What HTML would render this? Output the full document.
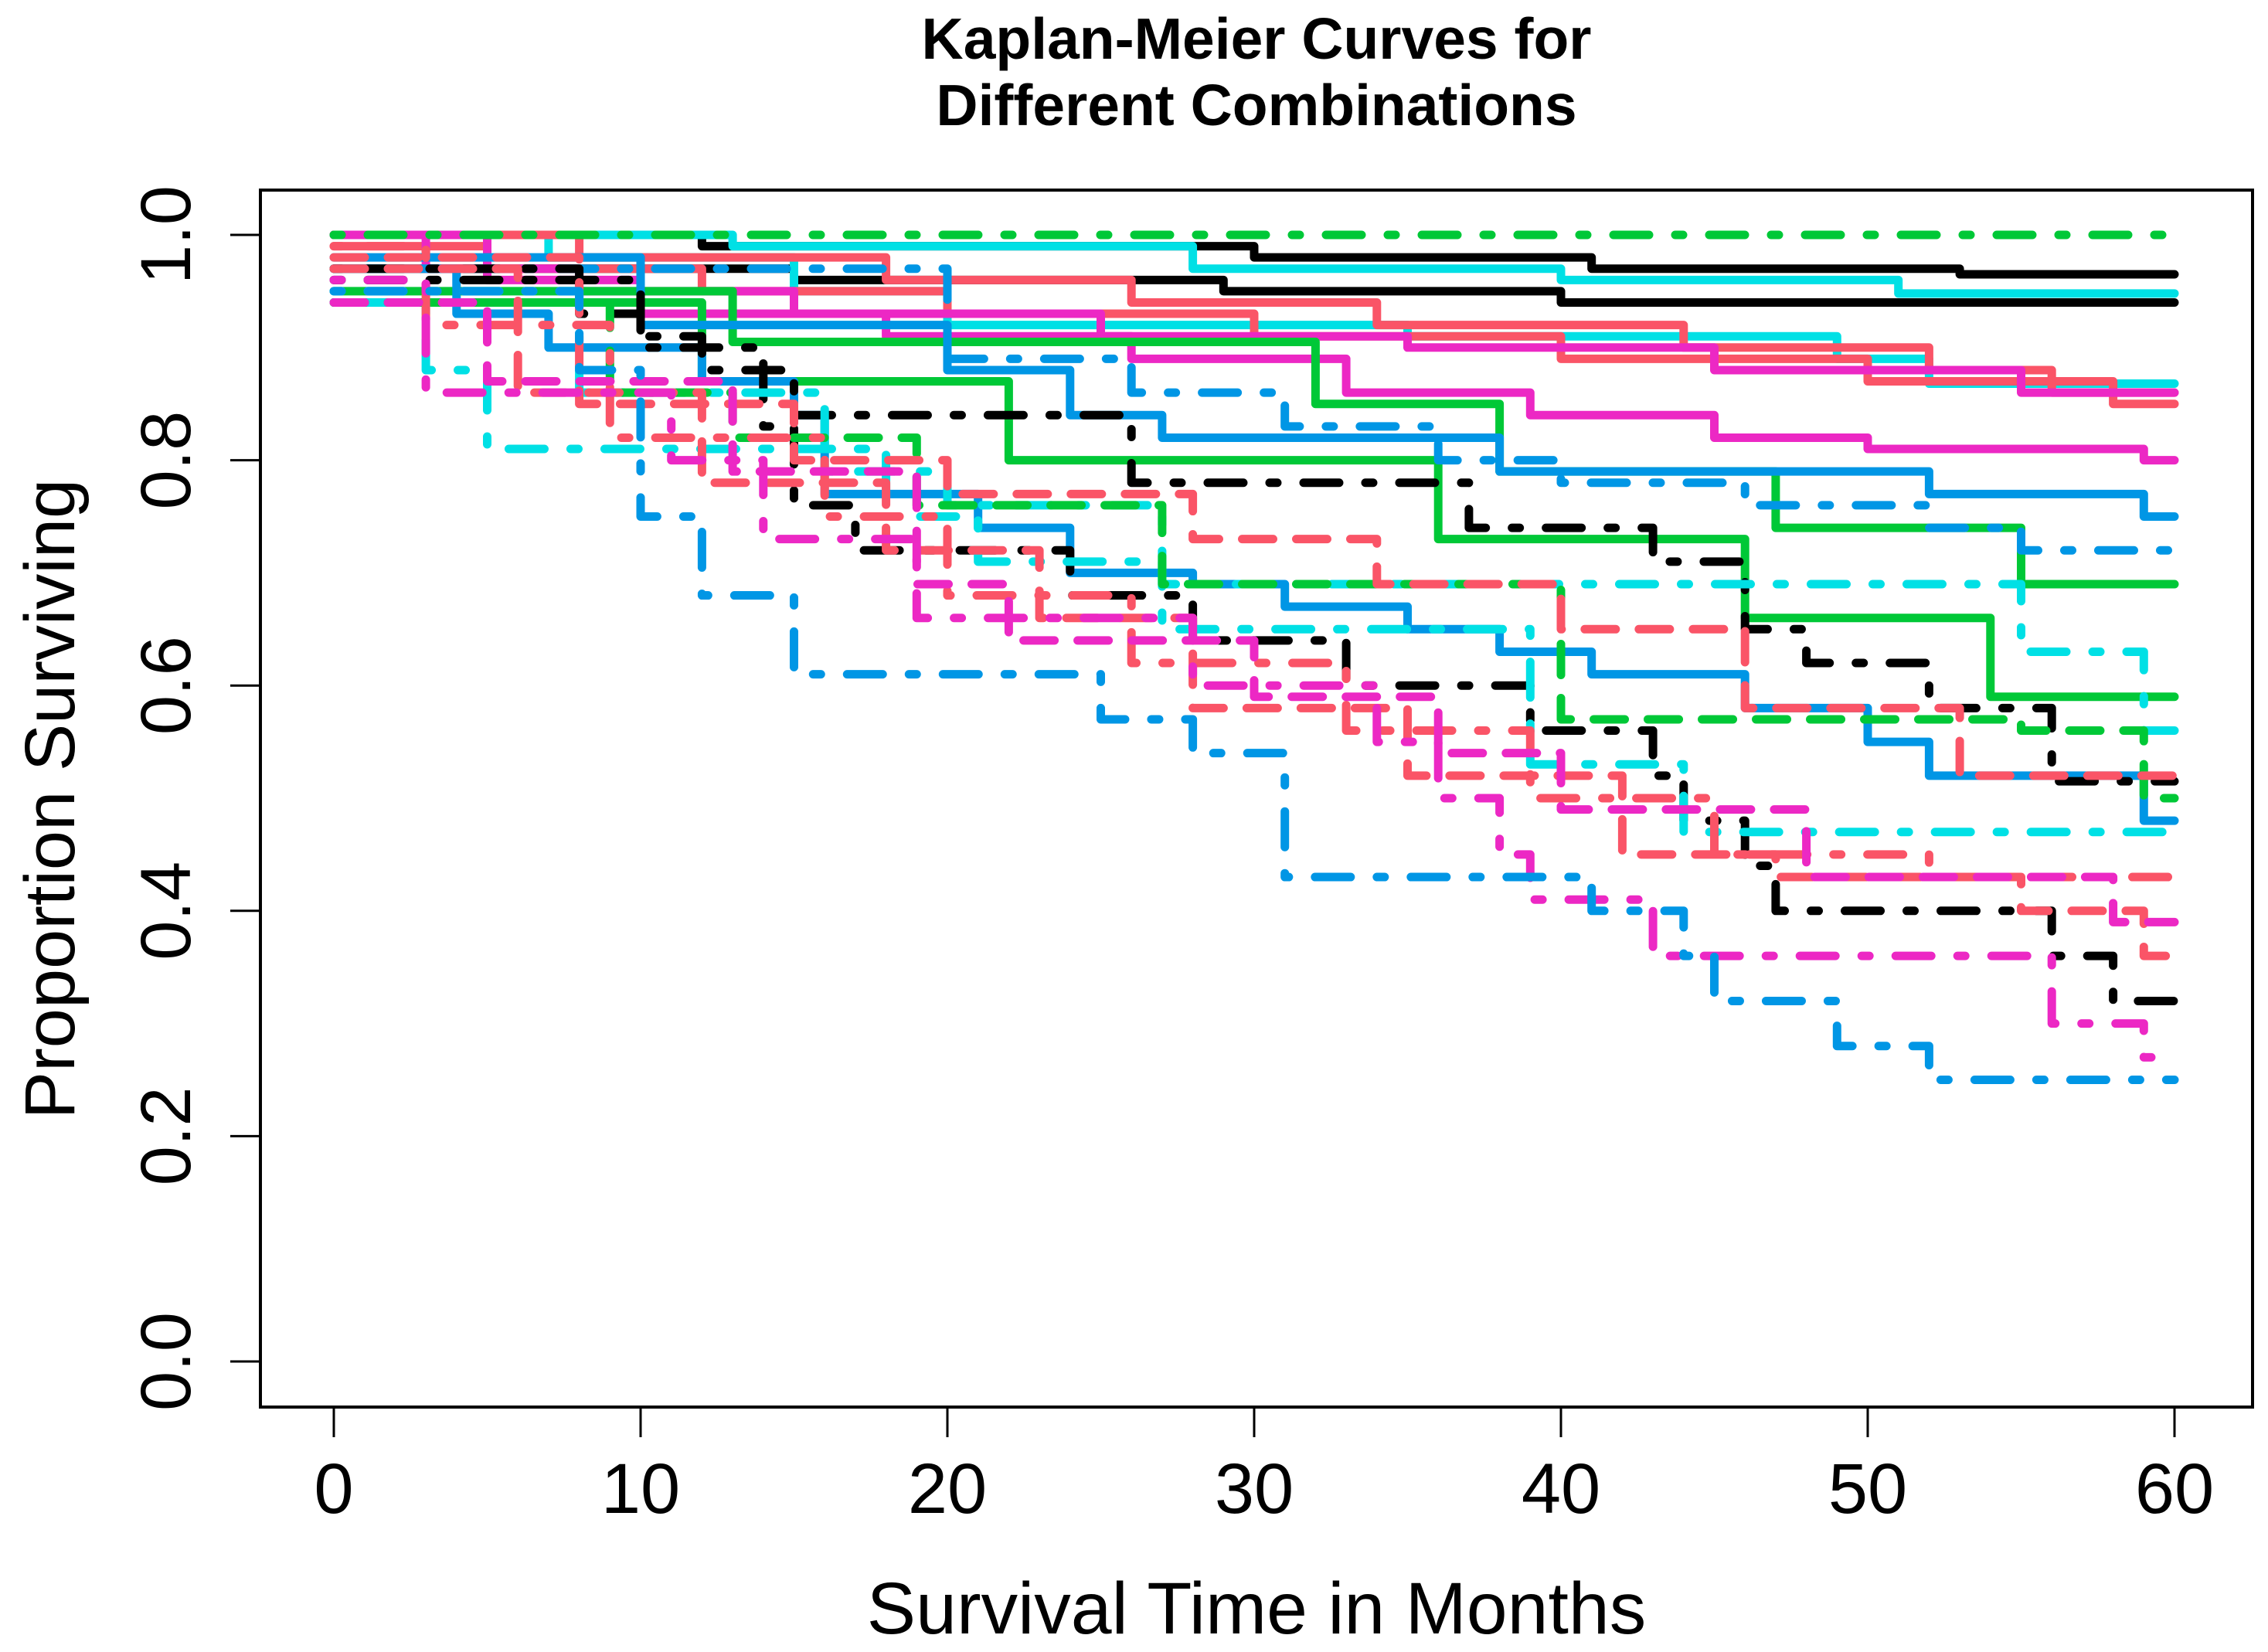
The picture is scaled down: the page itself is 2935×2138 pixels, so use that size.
<!DOCTYPE html>
<html><head><meta charset="utf-8"><style>
html,body{margin:0;padding:0;background:#fff;}
svg{display:block;}
text{font-family:"Liberation Sans",sans-serif;fill:#000;}
</style></head>
<body>
<svg id="chart" width="2935" height="2138" viewBox="0 0 2935 2138" xmlns="http://www.w3.org/2000/svg">
<text x="1626" y="76" font-size="75" font-weight="bold" text-anchor="middle">Kaplan-Meier Curves for</text>
<text x="1626" y="162" font-size="75" font-weight="bold" text-anchor="middle">Different Combinations</text>
<rect x="337" y="246" width="2578" height="1575" fill="none" stroke="#000" stroke-width="4"/>
<g id="xaxis"></g>
<g id="yaxis"></g>
<g id="curves"></g>
<text x="1626" y="2114" font-size="95" text-anchor="middle">Survival Time in Months</text>
<text transform="translate(96,1034) rotate(-90)" font-size="92" text-anchor="middle">Proportion Surviving</text>
</svg>
<script>
const xTicks = [0,10,20,30,40,50,60];
const yTicks = [0.0,0.2,0.4,0.6,0.8,1.0];
const yTickLabels = ["0.0","0.2","0.4","0.6","0.8","1.0"];
const c1t=[0,12,30,41,53], c1v=[1.0,0.99,0.98,0.97,0.965];
const c2t=[0,15,29,40], c2v=[0.97,0.96,0.95,0.94];
const c3t=[0,13,28,40,51], c3v=[1.0,0.99,0.97,0.96,0.948];
const c4t=[0,7,15,20,35,49,52], c4v=[1.0,0.98,0.95,0.92,0.91,0.89,0.868];
const c5t=[0,5,12,20,30,40,50,58], c5v=[0.99,0.97,0.95,0.93,0.91,0.89,0.87,0.85];
const c6t=[0,8,18,26,34,44,52,56], c6v=[1.0,0.98,0.96,0.94,0.92,0.90,0.88,0.86];
const c7t=[0,3,8,15,25,35,45,55], c7v=[1.0,0.97,0.95,0.93,0.91,0.90,0.88,0.86];
const c8t=[0,5,10,18,26,33,39,45,50,59], c8v=[1.0,0.96,0.93,0.91,0.89,0.86,0.84,0.82,0.81,0.80];
const c9t=[0,13,32,38,47,55], c9v=[0.95,0.905,0.85,0.79,0.74,0.69];
const c10t=[0,12,22,36,46,54], c10v=[0.94,0.87,0.80,0.73,0.66,0.59];
const c11t=[0,4,7,12,15,16,21,24,28,31,35,38,41,46,50,52,59], c11v=[0.97,0.93,0.90,0.87,0.84,0.77,0.74,0.70,0.69,0.67,0.65,0.63,0.61,0.58,0.55,0.52,0.48];
const c12t=[0,10,20,24,27,38,52,59], c12v=[0.98,0.92,0.88,0.84,0.82,0.79,0.77,0.75];
const c13t=[0], c13v=[1.0];
const c14t=[0,20,26,31,36,40,46,52,55], c14v=[0.97,0.89,0.86,0.83,0.80,0.78,0.76,0.74,0.72];
const c15t=[0,8,10,12,15,26,37,43,46,48,52,56], c15v=[0.97,0.93,0.91,0.88,0.84,0.78,0.74,0.71,0.65,0.62,0.58,0.515];
const c16t=[0,10,14,15,17,24,28,33,39,43,44,46,47,56,58], c16v=[0.96,0.90,0.83,0.76,0.72,0.68,0.64,0.60,0.56,0.52,0.48,0.44,0.40,0.36,0.32];
const c17t=[0,3,5,18,21,27,55,59], c17v=[0.94,0.88,0.81,0.75,0.71,0.69,0.63,0.56];
const c18t=[0,8,16,20,27,39,44], c18v=[0.95,0.86,0.79,0.76,0.65,0.53,0.47];
const c19t=[0,9,13,19,27,40,55,59], c19v=[0.94,0.86,0.82,0.76,0.69,0.57,0.56,0.50];
const c20t=[0,8,15,20,28,34,40,46,53], c20v=[0.98,0.85,0.80,0.77,0.73,0.69,0.65,0.58,0.52];
const c21t=[0,6,12,18,23,28,35,42,47,55,59], c21v=[0.97,0.86,0.78,0.72,0.66,0.58,0.52,0.45,0.43,0.40,0.36];
const c22t=[0,3,9,16,20,26,33,39,45,52], c22v=[0.99,0.92,0.82,0.75,0.68,0.62,0.56,0.50,0.45,0.43];
const c23t=[0,3,11,14,19,28,34,36,38,39,43,56,59], c23v=[0.96,0.86,0.80,0.73,0.66,0.60,0.55,0.50,0.45,0.41,0.36,0.30,0.27];
const c24t=[0,5,13,19,22,30,36,40,48,58], c24v=[0.94,0.87,0.79,0.69,0.64,0.59,0.54,0.49,0.43,0.39];
const c25t=[0,8,10,12,15,25,28,31,41,44,45,49,52], c25v=[0.95,0.88,0.75,0.68,0.61,0.57,0.54,0.43,0.40,0.36,0.32,0.28,0.25];

const BLACK="#000", RED="#FA5467", GREEN="#00C837", BLUE="#0096E5", CYAN="#00E0E5", MAG="#EC28C4";
const SOLID="none", DASH="40 30", DOTDASH="10 34 46 34";
const curves=[
 ["black-solid-1",c1t,c1v,BLACK,SOLID],["black-solid-2",c2t,c2v,BLACK,SOLID],
 ["cyan-solid-1",c3t,c3v,CYAN,SOLID],["cyan-solid-2",c4t,c4v,CYAN,SOLID],
 ["red-solid-1",c5t,c5v,RED,SOLID],["red-solid-2",c6t,c6v,RED,SOLID],
 ["magenta-solid-1",c7t,c7v,MAG,SOLID],["magenta-solid-2",c8t,c8v,MAG,SOLID],
 ["green-solid-1",c9t,c9v,GREEN,SOLID],["green-solid-2",c10t,c10v,GREEN,SOLID],
 ["blue-solid-1",c11t,c11v,BLUE,SOLID],["blue-solid-2",c12t,c12v,BLUE,SOLID],
 ["green-dotdash-1",c13t,c13v,GREEN,DOTDASH],["blue-dotdash-1",c14t,c14v,BLUE,DOTDASH],
 ["black-dotdash-1",c15t,c15v,BLACK,DOTDASH],["black-dotdash-2",c16t,c16v,BLACK,DOTDASH],
 ["cyan-dotdash-1",c17t,c17v,CYAN,DOTDASH],["cyan-dotdash-2",c18t,c18v,CYAN,DOTDASH],
 ["green-dashed-1",c19t,c19v,GREEN,DASH],["red-dashed-1",c20t,c20v,RED,DASH],
 ["red-dashed-2",c21t,c21v,RED,DASH],["red-dotdash-3",c22t,c22v,RED,DOTDASH],
 ["magenta-dotdash-1",c23t,c23v,MAG,DOTDASH],["magenta-dotdash-2",c24t,c24v,MAG,DASH],
 ["blue-dotdash-2",c25t,c25v,BLUE,DOTDASH]
];
const X0=432, XPER=(2814-432)/60, Y0=1762, YPER=1762-304;
function sx(t){return X0+t*XPER;}
function sy(v){return Y0-v*YPER;}
const NS="http://www.w3.org/2000/svg";
const xa=document.getElementById('xaxis'), ya=document.getElementById('yaxis'), cg=document.getElementById('curves');
xTicks.forEach(t=>{
 const l=document.createElementNS(NS,'line');
 
 
 l.setAttribute('x1',sx(t));l.setAttribute('x2',sx(t));l.setAttribute('y1',1821);l.setAttribute('y2',1860);
 l.setAttribute('stroke','#000');l.setAttribute('stroke-width','3');xa.appendChild(l);
 const tx=document.createElementNS(NS,'text');
 
 
 tx.setAttribute('x',sx(t));tx.setAttribute('y',1958);tx.setAttribute('font-size','92');tx.setAttribute('text-anchor','middle');
 tx.textContent=t;xa.appendChild(tx);
});
yTicks.forEach((v,i)=>{
 const l=document.createElementNS(NS,'line');
 
 
 l.setAttribute('x1',298);l.setAttribute('x2',337);l.setAttribute('y1',sy(v));l.setAttribute('y2',sy(v));
 l.setAttribute('stroke','#000');l.setAttribute('stroke-width','3');ya.appendChild(l);
 const tx=document.createElementNS(NS,'text');
 
 
 tx.setAttribute('transform','translate(246,'+sy(v)+') rotate(-90)');tx.setAttribute('font-size','92');tx.setAttribute('text-anchor','middle');
 tx.textContent=yTickLabels[i];ya.appendChild(tx);
});
curves.forEach(c=>{
 const [name,ts,vs,col,dash]=c;
 let d='M'+sx(ts[0])+','+sy(vs[0]);
 for(let i=1;i<ts.length;i++){d+=' H'+sx(ts[i])+' V'+sy(vs[i]);}
 d+=' H'+sx(60);
 const p=document.createElementNS(NS,'path');
 
 
 p.setAttribute('d',d);p.setAttribute('fill','none');p.setAttribute('stroke',col);p.setAttribute('stroke-width','11');
 p.setAttribute('stroke-linecap','round');p.setAttribute('stroke-linejoin','round');
 if(dash!=='none')p.setAttribute('stroke-dasharray',dash);
 cg.appendChild(p);
});
</script>
</body></html>
